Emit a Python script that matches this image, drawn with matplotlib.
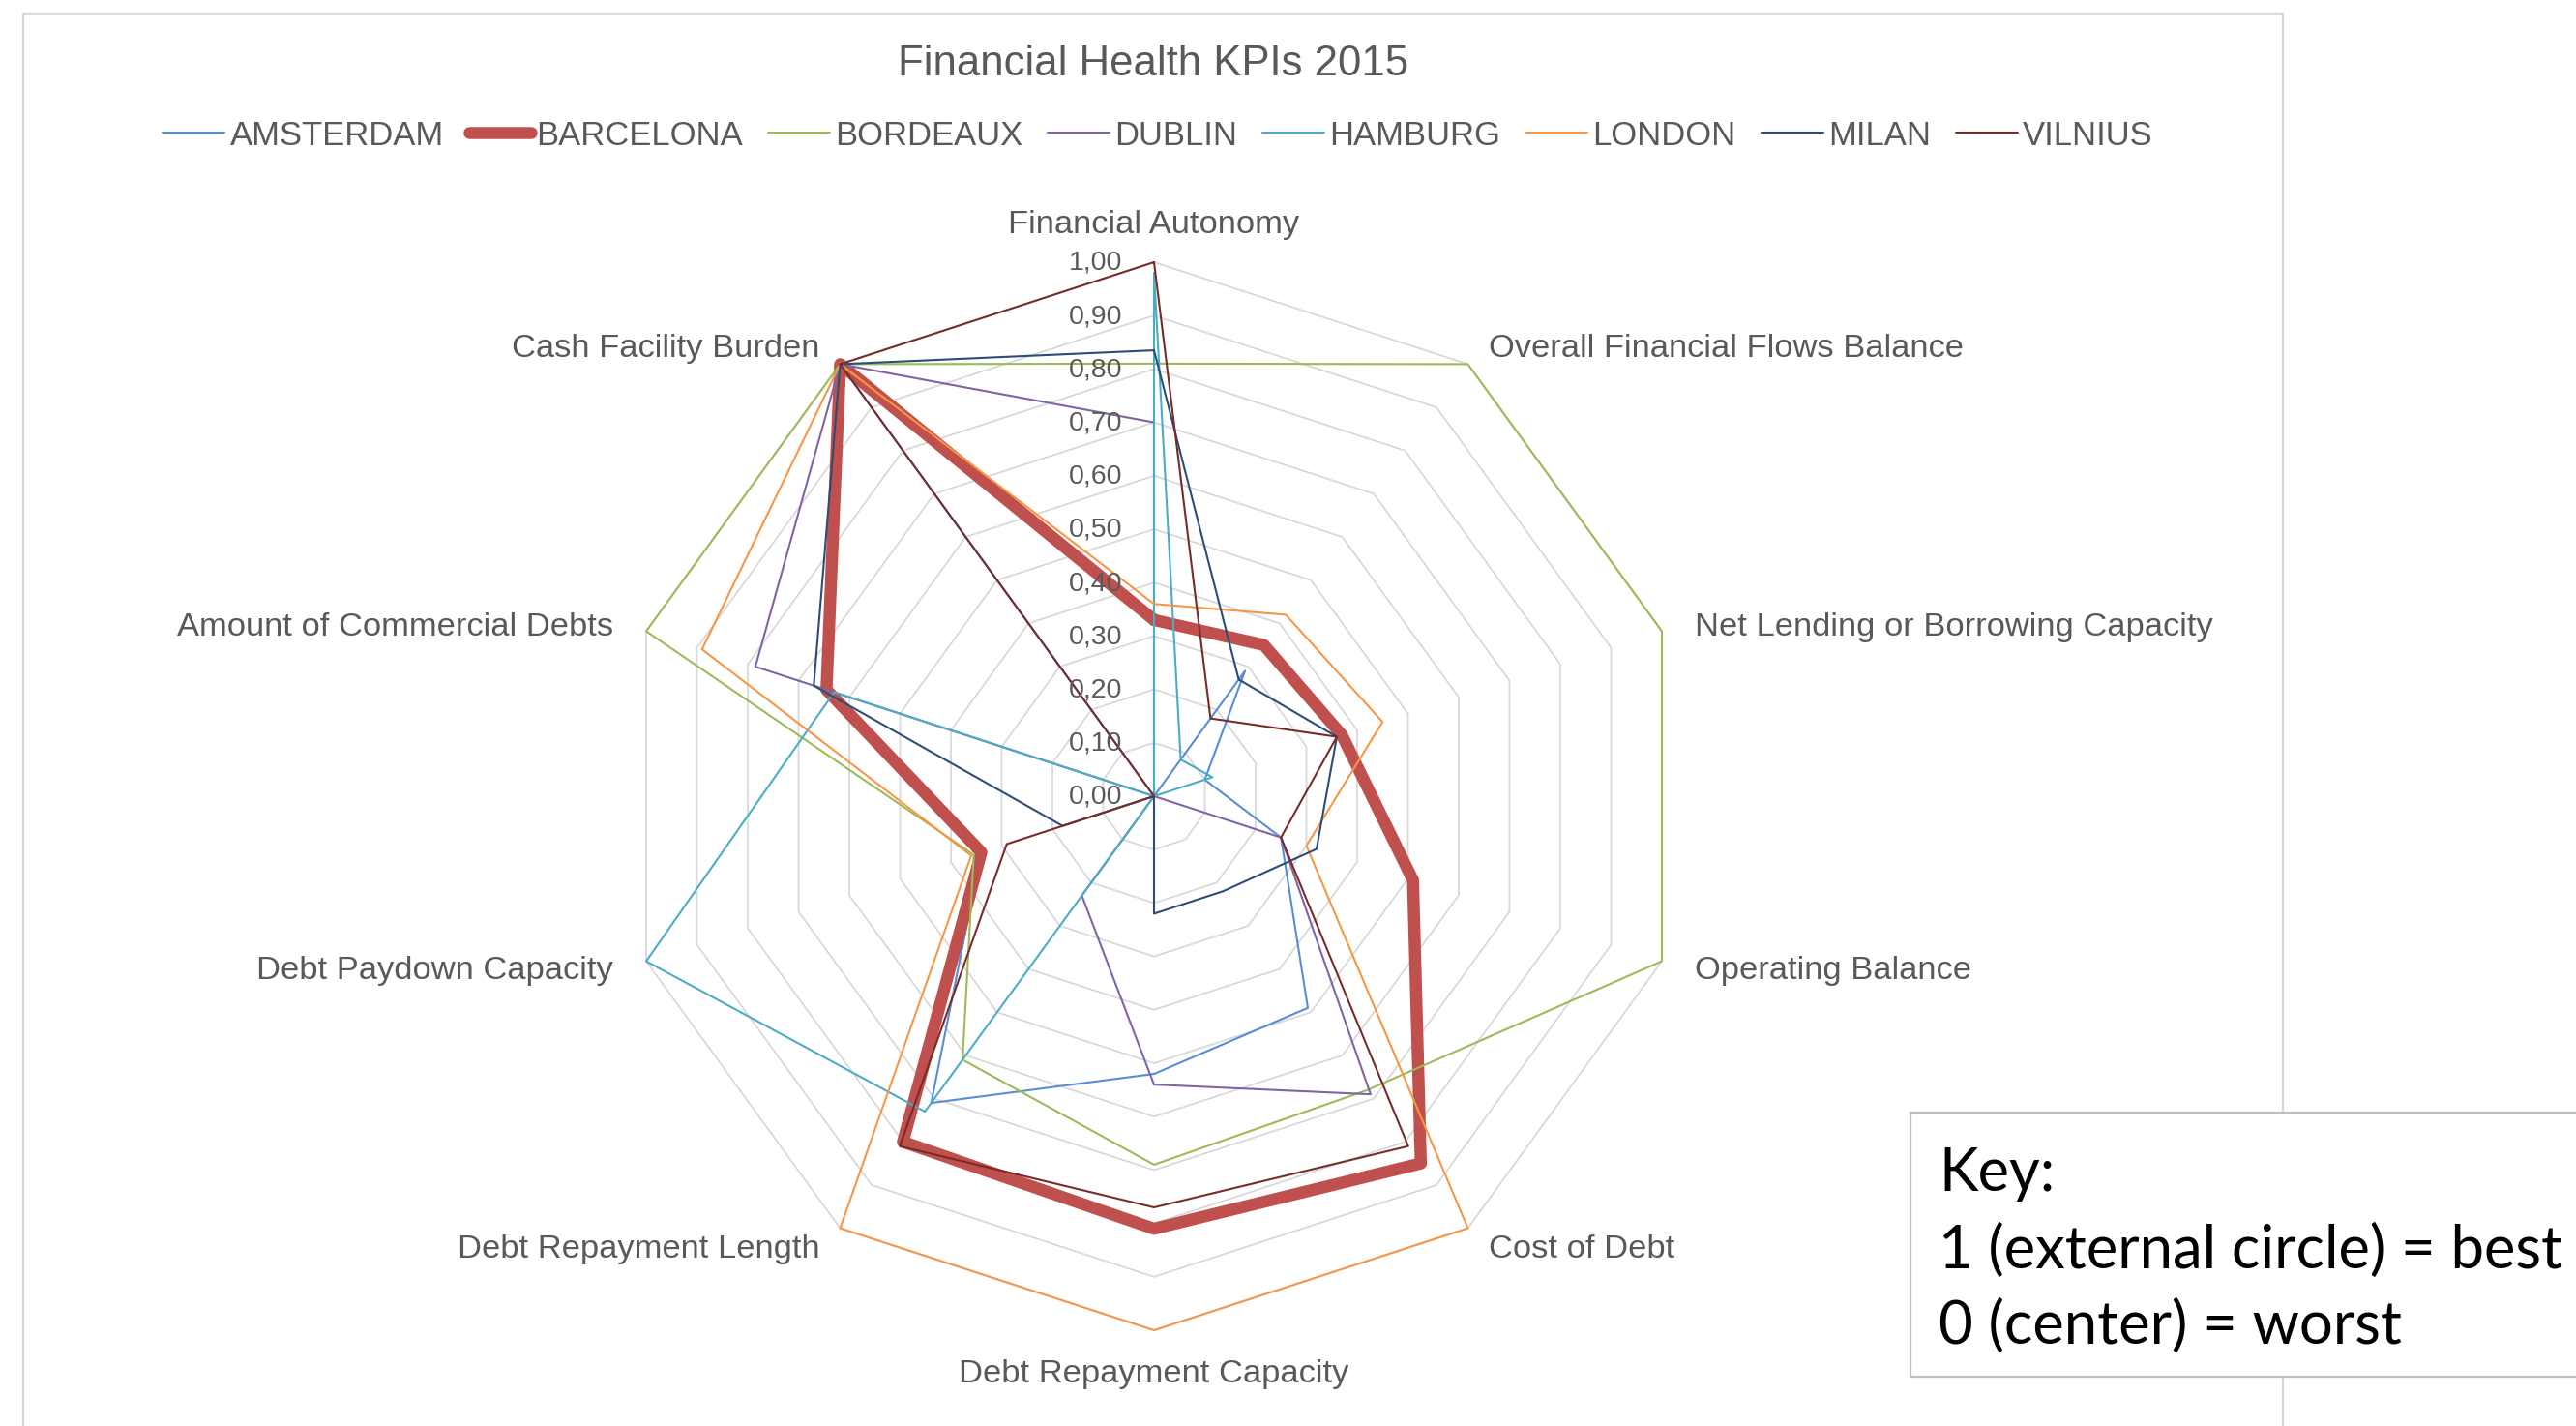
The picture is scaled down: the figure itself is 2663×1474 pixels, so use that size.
import numpy as np
import matplotlib
matplotlib.use("Agg")
import matplotlib.pyplot as plt
from matplotlib.patches import Rectangle
from matplotlib.lines import Line2D

# ---------------- data ----------------
categories = ["Financial Autonomy", "Overall Financial Flows Balance",
              "Net Lending or Borrowing Capacity", "Operating Balance",
              "Cost of Debt", "Debt Repayment Capacity", "Debt Repayment Length",
              "Debt Paydown Capacity", "Amount of Commercial Debts",
              "Cash Facility Burden"]
cities = ["AMSTERDAM", "BARCELONA", "BORDEAUX", "DUBLIN",
          "HAMBURG", "LONDON", "MILAN", "VILNIUS"]

amsterdam = [0.00, 0.29, 0.10, 0.25, 0.49, 0.52, 0.71, 0.34, 0.64, 1.00]
barcelona = [0.33, 0.35, 0.37, 0.51, 0.85, 0.81, 0.80, 0.34, 0.645, 1.00]
bordeaux  = [0.81, 1.00, 1.00, 1.00, 0.68, 0.69, 0.61, 0.355, 1.00, 1.00]
dublin    = [0.70, 0.00, 0.00, 0.25, 0.69, 0.54, 0.23, 0.00, 0.785, 1.00]
hamburg   = [0.98, 0.085, 0.115, 0.00, 0.00, 0.00, 0.73, 1.00, 0.63, 0.00]
london    = [0.36, 0.42, 0.45, 0.30, 1.00, 1.00, 1.00, 0.36, 0.89, 1.00]
milan     = [0.835, 0.27, 0.36, 0.32, 0.22, 0.22, 0.00, 0.18, 0.67, 1.00]
vilnius   = [1.00, 0.18, 0.36, 0.25, 0.81, 0.77, 0.81, 0.29, 0.00, 1.00]

tick_values = [0.0, 0.1, 0.2, 0.3, 0.4, 0.5, 0.6, 0.7, 0.8, 0.9, 1.0]
tick_labels = ["0,00", "0,10", "0,20", "0,30", "0,40", "0,50",
               "0,60", "0,70", "0,80", "0,90", "1,00"]

title = "Financial Health KPIs 2015"
key_lines = ["Key:", "1 (external circle) = best", "0 (center) = worst"]

# ---------------- style ----------------
series = [amsterdam, barcelona, bordeaux, dublin, hamburg, london, milan, vilnius]
colors = ["#558ED5", "#C0504D", "#9BBB59", "#8064A2",
          "#4BACC6", "#F79646", "#2C4D75", "#772C2A"]
widths = [1.5, 9.0, 1.5, 1.5, 1.5, 1.5, 1.5, 1.5]
txt_col = "#595959"
grid_col = "#D9D9D9"
FONT = "Liberation Sans"

W, H, DPI = 2663, 1474, 100
fig = plt.figure(figsize=(W / DPI, H / DPI), dpi=DPI)
fig.patch.set_facecolor("white")

cx, cy, R = 1193, 823, 552
ax = fig.add_axes([(cx - R) / W, (H - cy - R) / H, 2 * R / W, 2 * R / H],
                  projection="polar")
ax.set_theta_offset(np.pi / 2)
ax.set_theta_direction(-1)
ax.set_ylim(0, 1)
ax.axis("off")

n = len(categories)
theta = np.arange(n) * 2 * np.pi / n
theta_c = np.append(theta, theta[0])

# decagon gridlines
for v in tick_values[1:]:
    ax.plot(theta_c, [v] * (n + 1), color=grid_col, lw=1.3, zorder=1,
            clip_on=False)

# series
for i, (name, vals) in enumerate(zip(cities, series)):
    vv = list(vals) + [vals[0]]
    ax.plot(theta_c, vv, color=colors[i], lw=widths[i], zorder=3 + i,
            solid_joinstyle="round", solid_capstyle="round", clip_on=False)

# tick labels on the top axis
for v, lab in zip(tick_values, tick_labels):
    ax.annotate(lab, xy=(0, v), xytext=(-33, -1), textcoords="offset pixels",
                ha="right", va="center", fontsize=20.5, color=txt_col,
                family=FONT, zorder=20, annotation_clip=False)

# category labels
for t, cat in zip(theta, categories):
    s, c = np.sin(t), np.cos(t)
    if abs(s) < 0.1:
        dx, dy, ha = 0, 42 * c - 3, "center"
    else:
        dx, dy = 36 * s, 24 * c - 3
        ha = "left" if s > 0 else "right"
    ax.annotate(cat, xy=(t, 1.0), xytext=(dx, dy), textcoords="offset pixels",
                ha=ha, va="center", fontsize=24.8, color=txt_col, family=FONT,
                annotation_clip=False)

# title
fig.text(1192 / W, 1 - 67 / H, title, ha="center", va="center",
         fontsize=31.5, color=txt_col, family=FONT)

# legend
handles = [Line2D([0], [0], color=colors[i], lw=widths[i],
                  solid_capstyle="round") for i in range(len(cities))]
leg = fig.legend(handles, cities, loc="center", ncol=len(cities),
                 bbox_to_anchor=(1197 / W, 1 - 140 / H), frameon=False,
                 handlelength=1.85, handletextpad=0.15, columnspacing=0.75,
                 prop={"family": FONT, "size": 24.9})
for t in leg.get_texts():
    t.set_color(txt_col)

# chart area border
fig.patches.append(Rectangle((24 / W, -0.05), (2360 - 24) / W, (H - 14) / H + 0.05,
                             transform=fig.transFigure, facecolor="none",
                             edgecolor=grid_col, lw=1.6, zorder=0))

# key box
fig.patches.append(Rectangle((1975 / W, (H - 1423) / H), 0.5, (1423 - 1150) / H,
                             transform=fig.transFigure, facecolor="white",
                             edgecolor="#BFBFBF", lw=1.6, zorder=50))
for txt, yb in zip(key_lines, [1231, 1311, 1389]):
    fig.text(2004 / W, 1 - yb / H, txt, ha="left", va="baseline",
             fontsize=44.3, color="black", family="Lato", zorder=60)

fig.savefig("out.png", dpi=DPI, facecolor="white")
